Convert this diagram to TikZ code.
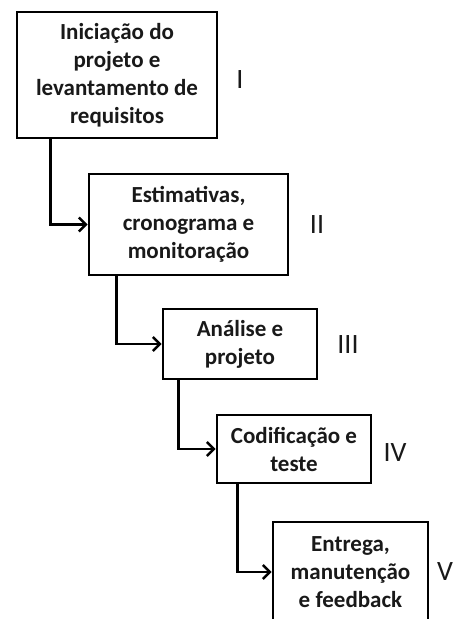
\documentclass[tikz,border=0pt]{standalone}
\usepackage{fontspec}
\setmainfont{Carlito}
\usetikzlibrary{arrows.meta}
\tikzset{
  stage/.style={draw=black, line width=2.6pt, align=center, inner sep=0pt,
    font=\bfseries\fontsize{23}{28}\selectfont, text=black!90},
  num/.style={font=\fontsize{28}{30}\selectfont, inner sep=0pt, text=black!90},
  link/.style={line width=2.6pt, -{Straight Barb[length=7pt,width=14pt,line width=2.6pt]}}
}
\begin{document}
\begin{tikzpicture}[x=1pt,y=-1pt]
\clip (0,0) rectangle (454,619);
\fill[white] (0,0) rectangle (454,619);
\node[stage, minimum width=200pt, minimum height=126pt] (s1) at (117,75)
  {Iniciação do\\projeto e\\levantamento de\\requisitos};
\node[stage, minimum width=199pt, minimum height=101pt] (s2) at (188.5,224.5)
  {Estimativas,\\cronograma e\\monitoração};
\node[stage, minimum width=154pt, minimum height=70pt] (s3) at (240,344)
  {Análise e\\projeto};
\node[stage, minimum width=154pt, minimum height=68pt] (s4) at (294,449)
  {Codificação e\\teste};
\node[stage, minimum width=155pt, minimum height=100pt] (s5) at (350.5,572)
  {Entrega,\\manutenção\\e feedback};
\node[num] (n1) at (240,80) {I};
\node[num] (n2) at (317,225) {II};
\node[num] (n3) at (348,345) {III};
\node[num] (n4) at (395,453) {IV};
\node[num] (n5) at (445,572) {V};
\draw[link] ([xshift=35pt]s1.south west) |- (s2.west);
\draw[link] ([xshift=29pt]s2.south west) |- (s3.west);
\draw[link] ([xshift=17pt]s3.south west) |- (s4.west);
\draw[link] ([xshift=22pt]s4.south west) |- (s5.west);
\end{tikzpicture}
\end{document}
